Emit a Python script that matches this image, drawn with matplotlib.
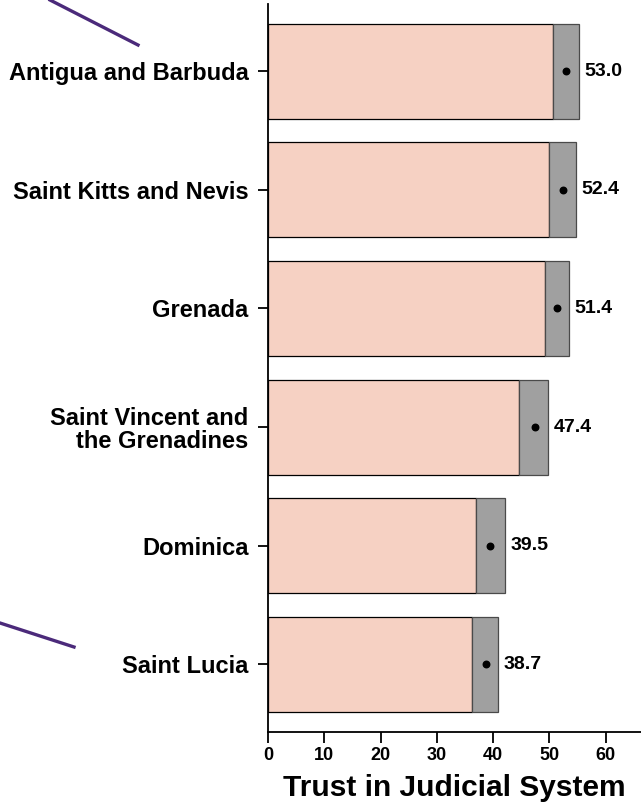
import matplotlib
matplotlib.use("Agg")
import matplotlib.pyplot as plt
from matplotlib.lines import Line2D

plt.rcParams['font.family'] = ['Liberation Sans', 'DejaVu Sans']

countries = ["Antigua and Barbuda", "Saint Kitts and Nevis", "Grenada",
             "Saint Vincent and\nthe Grenadines", "Dominica", "Saint Lucia"]
values = [53.0, 52.4, 51.4, 47.4, 39.5, 38.7]
ci_low = [50.7, 49.9, 49.2, 44.7, 36.9, 36.3]
ci_high = [55.2, 54.7, 53.5, 49.8, 42.1, 40.9]
xticks = [0, 10, 20, 30, 40, 50, 60]

fig = plt.figure(figsize=(6.41, 8.07), dpi=100)
ax = fig.add_axes([268/641, 1 - 732/807, 1 - 268/641, (732 - 4)/807])

y = list(range(len(countries)))
ax.barh(y, ci_low, height=0.8, color="#F6D1C3", edgecolor="black", linewidth=0.9, zorder=2)
widths = [h - l for h, l in zip(ci_high, ci_low)]
ax.barh(y, widths, left=ci_low, height=0.8, color="#A0A0A0", edgecolor="#4a4a4a", linewidth=0.9, zorder=3)
ax.scatter(values, y, s=22, color="black", zorder=4)
for yi, v, h in zip(y, values, ci_high):
    ax.text(h + 1.0, yi, f"{v:.1f}", va="center", ha="left", fontsize=14, fontweight="bold")

ax.set_xlim(0, 66.3)
ax.set_ylim(5.57, -0.565)
ax.set_yticks(y)
ax.set_yticklabels(countries, fontsize=17, fontweight="bold", linespacing=1.0)
ax.set_xticks(xticks)
ax.set_xticklabels([str(t) for t in xticks], fontsize=13, fontweight="bold")
ax.tick_params(axis="y", length=7, width=1.3, pad=7)
ax.tick_params(axis="x", length=8, width=1.3, pad=3)
ax.spines["top"].set_visible(False)
ax.spines["right"].set_visible(False)
ax.spines["left"].set_linewidth(1.3)
ax.spines["bottom"].set_linewidth(1.3)
ax.set_xlabel("Trust in Judicial System", fontsize=21.5, fontweight="bold", labelpad=7)

purple = "#4B2A7A"
fig.add_artist(Line2D([50/641, 138/641], [1, 1 - 45/807], color=purple, lw=2.4, transform=fig.transFigure))
fig.add_artist(Line2D([0, 74/641], [1 - 623/807, 1 - 647/807], color=purple, lw=2.4, transform=fig.transFigure))

fig.savefig("out.png", dpi=100)
